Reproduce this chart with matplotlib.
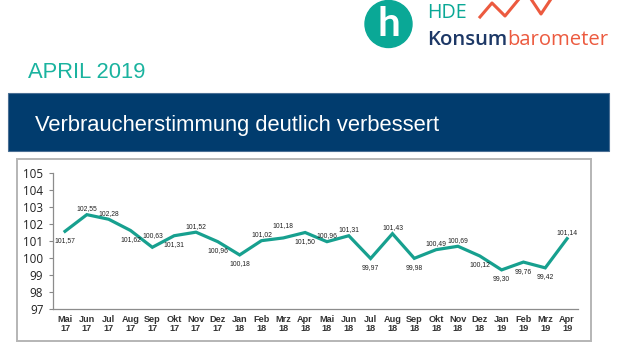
"""HDE Konsumbarometer April 2019 – Verbraucherstimmung Mai 2017 bis April 2019."""

import matplotlib
matplotlib.use("Agg")
import matplotlib.pyplot as plt
from matplotlib.patches import Rectangle, Ellipse

# Daten (Indexwerte laut Grafik)
monate = ["Mai", "Jun", "Jul", "Aug", "Sep", "Okt", "Nov", "Dez",
          "Jan", "Feb", "Mrz", "Apr", "Mai", "Jun", "Jul", "Aug",
          "Sep", "Okt", "Nov", "Dez", "Jan", "Feb", "Mrz", "Apr"]
jahre = ["17"] * 8 + ["18"] * 12 + ["19"] * 4
index = [101.57, 102.55, 102.28, 101.62, 100.63, 101.31, 101.52, 100.96,
         100.18, 101.02, 101.18, 101.50, 100.96, 101.31, 99.97, 101.43,
         99.98, 100.49, 100.69, 100.12, 99.30, 99.76, 99.42, 101.14]
# Beschriftung oberhalb (1, 2) oder unterhalb (-1) der Linie
lage = [-1, 1, 1, -1, 2, -1, 1, -1, -1, 1, 2, -1,
        1, 1, -1, 1, -1, 1, 1, -1, -1, -1, -1, 1]

W, H = 620, 350
TEAL = "#17a08f"
NAVY = "#013c6e"


def fx(x):
    return x / W


def fy(y):
    return 1 - y / H


fig = plt.figure(figsize=(W / 100, H / 100), dpi=100)

# Logo
fig.patches.append(Ellipse((fx(388.5), fy(24)), 47 / W, 47 / H,
                           transform=fig.transFigure, color="#0aa896"))
fig.text(fx(389), fy(25), "h", color="white", fontsize=29, fontweight="bold",
         family="Lato", ha="center", va="center")
fig.text(fx(427), fy(18), "HDE", color="#0aa896", fontsize=14.2, family="Open Sans",
         fontweight="medium", ha="left", va="baseline")
zz_x = [480, 492, 505, 519]
zz_y = [17, 3, 16, -1]
fig.add_artist(plt.Line2D([fx(v) for v in zz_x], [fy(v) for v in zz_y],
                          transform=fig.transFigure, color="#ec5a3f", lw=2.2))
zz_x2 = [531, 541, 551]
zz_y2 = [-1, 14, -1]
fig.add_artist(plt.Line2D([fx(v) for v in zz_x2], [fy(v) for v in zz_y2],
                          transform=fig.transFigure, color="#ec5a3f", lw=2.2))
t1 = fig.text(fx(427), fy(45), "Konsum", color="#1d3866", fontsize=14.6,
              family="Open Sans", fontweight="semibold", ha="left", va="baseline")
r = fig.canvas.get_renderer()
bb = t1.get_window_extent(renderer=r)
fig.text(bb.x1 / W, fy(45), "barometer", color="#ec5a3f", fontsize=14.6,
         family="Open Sans", ha="left", va="baseline")

# Datum
fig.text(fx(28), fy(78), "APRIL 2019", color="#1ab39f", fontsize=15.8,
         family="Liberation Sans", ha="left", va="baseline")

# Banner
fig.patches.append(Rectangle((fx(8), fy(151)), (609 - 8) / W, (151 - 93) / H,
                             transform=fig.transFigure, facecolor=NAVY,
                             edgecolor="#4a6f94", lw=0.8))
fig.text(fx(35), fy(131), "Verbraucherstimmung deutlich verbessert", color="white",
         fontsize=15.8, family="Liberation Sans", ha="left", va="baseline")

# Rahmen um das Diagramm
fig.patches.append(Rectangle((fx(17), fy(341)), (591 - 17) / W, (341 - 159) / H,
                             transform=fig.transFigure, facecolor="none",
                             edgecolor="#b5b5b5", lw=1.4))

ax = fig.add_axes([fx(53), fy(309), (578 - 53) / W, (309 - 173) / H])
ax.set_zorder(3)
x = list(range(len(index)))
ax.plot(x, index, color=TEAL, lw=2.3, solid_joinstyle="miter")

for xi, v, l in zip(x, index, lage):
    txt = f"{v:.2f}".replace(".", ",")
    dy = {1: 6, 2: 12, -1: -9}[l]
    ax.annotate(txt, (xi, v), xytext=(0, dy * 0.72), textcoords="offset points",
                ha="center", va="center", fontsize=4.9, color="#222222",
                family="Liberation Sans")

ax.set_xlim(-0.55, 23.5)
ax.set_ylim(97, 105)
ax.set_yticks(range(97, 106))
ax.set_xticks(x)
ax.set_xticklabels([f"{m}\n{j}" for m, j in zip(monate, jahre)],
                   fontsize=6.6, fontweight="bold", color="#333333",
                   family="Liberation Sans", linespacing=1.0)
for lab in ax.get_yticklabels():
    lab.set_family("Open Sans")
ax.tick_params(axis="y", labelsize=8.4, length=3, width=0.8, color="#888888",
               pad=4, labelcolor="#222222")
ax.tick_params(axis="x", length=0, pad=4)
for s in ["top", "right"]:
    ax.spines[s].set_visible(False)
for s in ["left", "bottom"]:
    ax.spines[s].set_color("#8c8c8c")
    ax.spines[s].set_linewidth(0.9)
ax.patch.set_alpha(0)

fig.savefig("out.png", dpi=100)
